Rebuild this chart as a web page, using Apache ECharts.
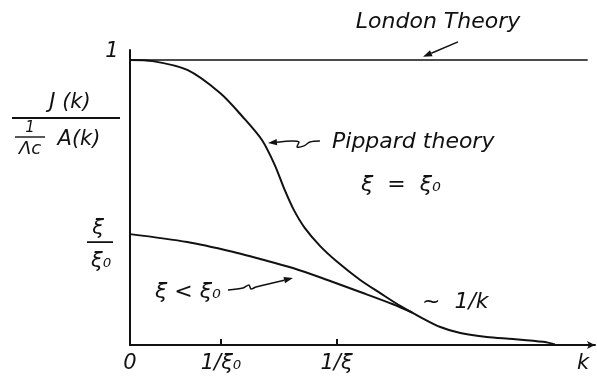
<!DOCTYPE html>
<html>
<head>
<meta charset="utf-8">
<script src="https://cdn.jsdelivr.net/npm/echarts@6/dist/echarts.min.js"></script>
<style>
  html, body { margin: 0; padding: 0; background: #fff; }
  #chart { width: 597px; height: 377px; }
</style>
</head>
<body>
<div id="chart"></div>
<script>
// Wave number k is measured in units of 1/ξ0; response J(k) normalised to the London value.
const kTickValues = [0, 1, 2.27];
const kTickLabels = ['0', '1/ξ₀', '1/ξ'];
const kNamePos = 4.98;

// London theory: constant response
const londonK = [0, 5.03];
const londonJ = [1, 1];

// Pippard theory, ξ = ξ0
const pippardK = [0, 0.25, 0.63, 0.99, 1.24, 1.45, 1.59, 1.70, 1.80, 1.92, 2.09, 2.28, 2.53, 2.75, 2.97, 3.19, 3.41, 3.63, 3.92, 4.21, 4.54, 4.67];
const pippardJ = [1.0, 0.996, 0.965, 0.884, 0.80, 0.719, 0.632, 0.544, 0.474, 0.411, 0.347, 0.291, 0.228, 0.182, 0.137, 0.098, 0.063, 0.042, 0.028, 0.021, 0.011, 0.002];

// Shorter coherence length, ξ < ξ0 (starts at ξ/ξ0, joins the Pippard tail)
const shortK = [0, 0.63, 1.18, 1.43, 1.79, 2.17, 2.53, 2.89, 3.10];
const shortJ = [0.389, 0.361, 0.323, 0.302, 0.270, 0.228, 0.186, 0.143, 0.114];

const INK = '#111';
const FONT = '"DejaVu Sans", "Liberation Sans", sans-serif';

const zip = (xs, ys) => xs.map((x, i) => [x, ys[i]]);

const chart = echarts.init(document.getElementById('chart'), null, { renderer: 'canvas' });

const lineStyle = { color: INK, width: 2 };

chart.setOption({
  animation: false,
  backgroundColor: '#fff',
  grid: { left: 130, right: 2, top: 50, bottom: 32, containLabel: false },
  xAxis: {
    type: 'value',
    min: 0,
    max: 5.11,
    axisLine: { lineStyle: { color: INK, width: 2 }, symbol: ['none', 'arrow'], symbolSize: [6, 8] },
    axisTick: { customValues: kTickValues.slice(1), inside: true, length: 6, lineStyle: { color: INK, width: 2 } },
    axisLabel: {
      customValues: kTickValues.concat([kNamePos]),
      formatter: v => {
        const i = kTickValues.indexOf(v);
        return i >= 0 ? kTickLabels[i] : 'k';
      },
      color: INK,
      fontFamily: FONT,
      fontStyle: 'italic',
      fontSize: 21,
      margin: 8
    },
    splitLine: { show: false }
  },
  yAxis: {
    type: 'value',
    min: 0,
    max: 1.035,
    axisLine: { show: true, lineStyle: { color: INK, width: 2 } },
    axisTick: { show: false },
    axisLabel: { show: false },
    splitLine: { show: false }
  },
  series: [
    { name: 'London', type: 'line', data: zip(londonK, londonJ), symbol: 'none', lineStyle: { color: INK, width: 1.6 } },
    { name: 'Pippard ξ = ξ0', type: 'line', data: zip(pippardK, pippardJ), symbol: 'none', smooth: 0.3, lineStyle },
    { name: 'ξ < ξ0', type: 'line', data: zip(shortK, shortJ), symbol: 'none', smooth: 0.3, lineStyle }
  ]
});

// ---- annotations, anchored to data coordinates ----
const px = (x, y) => chart.convertToPixel({ gridIndex: 0 }, [x, y]);

function text(str, x, y, size, align) {
  return {
    type: 'text',
    silent: true,
    style: {
      text: str, x, y,
      fill: INK,
      font: 'italic ' + size + 'px ' + FONT,
      align: align || 'center',
      verticalAlign: 'middle'
    }
  };
}

function seg(x1, y1, x2, y2, w) {
  return { type: 'line', silent: true, shape: { x1, y1, x2, y2 }, style: { stroke: INK, lineWidth: w || 1.6 } };
}

// polyline with a filled head at its last point
function arrow(points, len, half) {
  len = len || 9; half = half || 3.2;
  const n = points.length;
  const [hx, hy] = points[n - 1];
  const [px0, py0] = points[n - 2];
  const dx = hx - px0, dy = hy - py0;
  const d = Math.hypot(dx, dy);
  const ux = dx / d, uy = dy / d;
  const bx = hx - ux * len, by = hy - uy * len;
  const body = points.slice(0, n - 1).concat([[bx, by]]);
  return [
    { type: 'polyline', silent: true, shape: { points: body, smooth: 0.3 }, style: { stroke: INK, lineWidth: 1.5, fill: null } },
    { type: 'polygon', silent: true, shape: { points: [[hx, hy], [bx - uy * half, by + ux * half], [bx + uy * half, by - ux * half]] }, style: { fill: INK } }
  ];
}

function offsetPts(anchor, offs) {
  return offs.map(([dx, dy]) => [anchor[0] + dx, anchor[1] + dy]);
}

const g = [];

// axis value labels on the vertical axis
const one = px(0, 1);
g.push(text('1', one[0] - 18, one[1] - 8, 21));
const ratio = px(0, shortJ[0]);
g.push(text('ξ', ratio[0] - 32, ratio[1] - 6, 21));
g.push(seg(ratio[0] - 43, ratio[1] + 8, ratio[0] - 17, ratio[1] + 8, 1.8));
g.push(text('ξ₀', ratio[0] - 29, ratio[1] + 27, 21));

// vertical axis title: J(k) / ((1/Λc) A(k))
g.push(text('J (k)', 70, 103, 21));
g.push(seg(12, 118, 120, 118, 1.8));
g.push(text('1', 30, 128, 15));
g.push(seg(15, 137, 45, 137, 1.4));
g.push(text('Λc', 30, 149, 18));
g.push(text('A(k)', 79, 140, 21));

// London theory
const lt = px(3.385, 1.133);
g.push(text('London Theory', lt[0], lt[1], 22));
const lHead = px(3.22, 1.011);
g.push(...arrow(offsetPts(lHead, [[35, -15], [0, 0]])));

// Pippard theory
const pt = px(2.22, 0.712);
g.push(text('Pippard theory', pt[0], pt[1], 22, 'left'));
g.push(text('ξ  =  ξ₀', px(2.978, 0.561)[0], px(2.978, 0.561)[1], 22));
const pHead = px(1.516, 0.709);
g.push(...arrow(offsetPts(pHead, [[52, -2], [42, -1], [36, 3], [29, 4], [31, -1], [24, -2], [0, 0]])));

// ξ < ξ0 curve label
const st = px(0.637, 0.186);
g.push(text('ξ < ξ₀', st[0], st[1], 22));
const sHead = px(1.791, 0.235);
g.push(...arrow(offsetPts(sHead, [[-65, 12], [-50, 10], [-44, 7], [-42, 11], [-37, 9], [0, 0]])));

// asymptotic tail
const tail = px(3.209, 0.151);
g.push(text('~  1/k', tail[0], tail[1], 22, 'left'));

chart.setOption({ graphic: g });
</script>
</body>
</html>
